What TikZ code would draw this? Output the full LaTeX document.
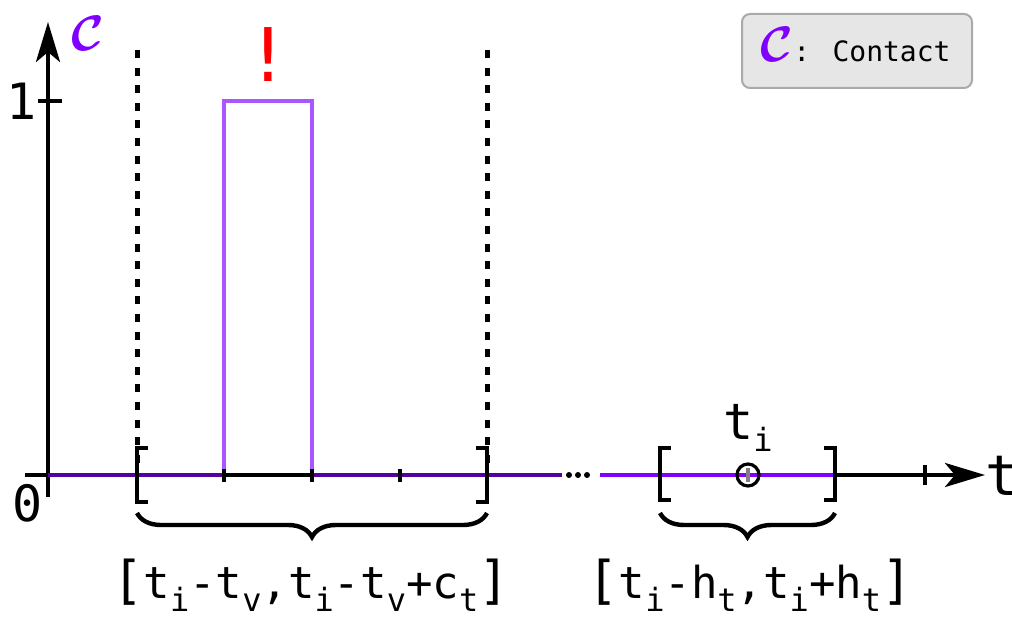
\documentclass[tikz,border=0pt]{standalone}
\usepackage{amsmath}
\usepackage{fontspec}
\setmainfont{DejaVu Sans Mono}
\newfontfamily\bangfont{DejaVu Sans}
\definecolor{contactpurple}{RGB}{128,0,255}
\definecolor{pulsepurple}{RGB}{170,85,255}
\definecolor{basepurple}{RGB}{85,0,160}
\definecolor{legendgray}{RGB}{230,230,230}
\definecolor{legendedge}{RGB}{170,170,170}
\usetikzlibrary{arrows.meta,decorations.pathreplacing}
\newcommand{\contactsym}{\textcolor{contactpurple}{$\boldsymbol{\mathcal{C}}$}}
\newcommand{\lowsub}[1]{\raisebox{-6pt}{\fontsize{16}{16}\selectfont #1}}
\newcommand{\bigbr}[1]{{\fontsize{26}{26}\selectfont #1}}

\begin{document}
\begin{tikzpicture}[x=0.5pt,y=-0.5pt,
        axisline/.style={line width=2.2pt,-{Stealth[length=20pt,width=12pt,inset=5pt]}},
        plainline/.style={line width=2.2pt},
        bigtxt/.style={font={\fontsize{25}{30}\selectfont},inner sep=0pt},
        wintxt/.style={font={\fontsize{22}{26}\selectfont},inner sep=0pt,anchor=base},
        winbracket/.style={line width=2.2pt},
        winbrace/.style={line width=2.2pt,decorate,decoration={brace,amplitude=12pt}},
        tickmark/.style={line width=1.6pt},
        bound/.style={line width=2.5pt,dash pattern=on 4pt off 4.8pt}]

        \useasboundingbox (0,0) rectangle (1012,619);

        \coordinate (origin) at (48,475);
        \coordinate (ytop)   at (48,22);
        \coordinate (ybot)   at (48,497);
        \coordinate (xleft)  at (25,475);
        \coordinate (gapL)   at (562,475);
        \coordinate (gapR)   at (600,475);
        \coordinate (xtip)   at (985,475);
        \coordinate (ti)     at (748,475);

        % axes
        \draw[axisline] (ybot) -- (ytop);
        \draw[plainline] (xleft) -- (gapL);
        \draw[axisline] (gapR) -- (xtip);
        \draw[tickmark] (38,101) -- (62,101);

        \node[bigtxt] (one)  at (22,101) {1};
        \node[bigtxt] (zero) at (28,503) {0};
        \node[bigtxt,font={\fontsize{28}{30}\selectfont},anchor=base west] (tlbl) at (985,496) {t};
        \node[inner sep=0pt,font={\fontsize{34}{34}\selectfont}] (clbl) at (88,33) {\contactsym};

        % dotted window bounds
        \draw[bound] (137,50) -- (137,470);
        \draw[bound] (487,50) -- (487,470);

        % contact signal
        \draw[pulsepurple,line width=1.6pt] (224,475) -- (224,101) -- (312,101) -- (312,475);
        \draw[basepurple,plainline] (origin) -- (224,475);
        \draw[basepurple,plainline] (312,475) -- (gapL);
        \draw[contactpurple,plainline] (gapR) -- (835,475);

        \foreach \tx in {224,312,400}
            \draw[tickmark] (\tx,469) -- (\tx,482);
        \draw[tickmark] (925,465) -- (925,485);
        \draw[tickmark,gray] (748,468) -- (748,482);

        \node[font={\fontsize{37}{37}\selectfont\bangfont},text=red,inner sep=0pt] (alert) at (268,55) {!};

        \foreach \dx in {569,578,587}
            \fill (\dx,475) circle[radius=3];

        % windows
        \draw[winbracket] (148,448) -- (137,448) -- (137,502) -- (148,502);
        \draw[winbracket] (476,448) -- (487,448) -- (487,502) -- (476,502);
        \draw[winbracket] (671,448) -- (660,448) -- (660,500) -- (671,500);
        \draw[winbracket] (824,448) -- (835,448) -- (835,500) -- (824,500);
        \draw[line width=1.6pt] (ti) circle[radius=11];
        \node[bigtxt,anchor=base] (tilbl) at (748,440) {t\lowsub{i}};

        \draw[winbrace] (487,513) -- (137,513);
        \draw[winbrace] (835,513) -- (660,513);

        \node[wintxt] (winA) at (311,599) {\bigbr{[}t\lowsub{i}-t\lowsub{v},t\lowsub{i}-t\lowsub{v}+c\lowsub{t}\bigbr{]}};
        \node[wintxt] (winB) at (750,599) {\bigbr{[}t\lowsub{i}-h\lowsub{t},t\lowsub{i}+h\lowsub{t}\bigbr{]}};

        % legend
        \node[draw=legendedge,fill=legendgray,rounded corners=4pt,line width=1pt,
              minimum width=115pt,minimum height=37pt,inner sep=0pt] (legend) at (857,51) {};
        \node[anchor=base west,inner sep=0pt,font={\fontsize{14}{14}\selectfont}] (legtxt) at (760,62)
              {{\fontsize{30}{30}\selectfont\contactsym}: Contact};

    \end{tikzpicture}
\end{document}
